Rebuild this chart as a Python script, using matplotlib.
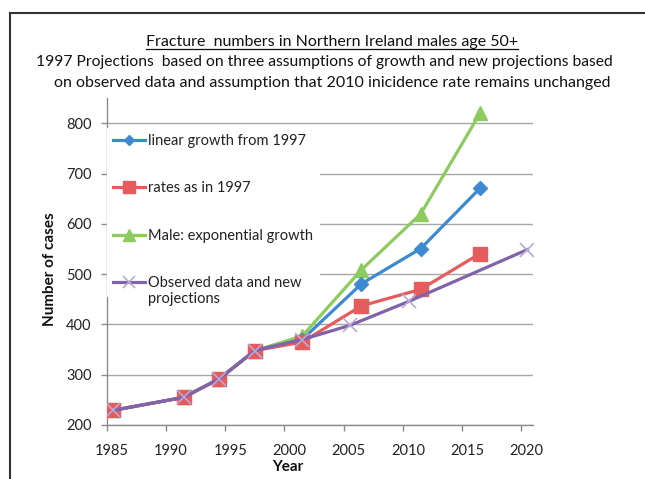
import matplotlib
matplotlib.use("Agg")
import matplotlib.pyplot as plt
import matplotlib.transforms as mtransforms
from matplotlib.lines import Line2D

# ---- data ----
years_proj = [1985.5, 1991.5, 1994.5, 1997.5, 2001.5, 2006.5, 2011.5, 2016.5]
linear_growth = [229, 255, 292, 348, 370, 481, 551, 671]
rates_1997 = [229, 255, 292, 348, 365, 437, 470, 541]
exponential = [229, 255, 292, 348, 377, 509, 620, 820]
years_obs = [1985.5, 1991.5, 1994.5, 1997.5, 2001.5, 2005.5, 2010.5, 2020.5]
observed = [229, 255, 292, 348, 370, 398, 446, 549]

series_labels = ["linear growth from 1997", "rates as in 1997",
                 "Male: exponential growth", "Observed data and new"]
label_continuation = "projections"
x_ticks = [1985, 1990, 1995, 2000, 2005, 2010, 2015, 2020]
y_ticks = [200, 300, 400, 500, 600, 700, 800]
title1 = "Fracture  numbers in Northern Ireland males age 50+"
title2 = "1997 Projections  based on three assumptions of growth and new projections based"
title3 = "on observed data and assumption that 2010 inicidence rate remains unchanged"

FONT = "Lato"
plt.rcParams["font.family"] = [FONT, "DejaVu Sans"]

W, H = 645, 479
fig = plt.figure(figsize=(W / 100, H / 100), dpi=100)

def fx(px):
    return px / W

def fy(py):
    return 1 - py / H

ax = fig.add_axes([fx(106.7), fy(425), fx(533.3) - fx(106.7), fy(98.3) - fy(425)])
ax.set_xlim(1985, 2021)
ax.set_ylim(200, 850)

blue = "#3D8AD0"
red = "#E65B5B"
green = "#8DCB5E"
purple = "#8063A8"
LW = 2.3

ax.plot(years_proj, exponential, color=green, lw=LW, marker="^", ms=10,
        label=series_labels[2], zorder=3)
ax.plot(years_proj, linear_growth, color=blue, lw=LW, marker="D", ms=7,
        label=series_labels[0], zorder=4)
ax.plot(years_proj, rates_1997, color=red, lw=LW, marker="s", ms=10,
        label=series_labels[1], zorder=5)
ax.plot(years_obs, observed, color=purple, lw=LW, marker="x", ms=10,
        mec="#B9A9D6", mew=1.2, label=series_labels[3], zorder=6)

ax.set_xticks(x_ticks)
ax.set_yticks(y_ticks)
ax.grid(axis="y", color="#A6A6A6", lw=1)
ax.set_axisbelow(True)
for s in ["top", "right"]:
    ax.spines[s].set_visible(False)
for s in ["left", "bottom"]:
    ax.spines[s].set_color("#8C8C8C")
    ax.spines[s].set_linewidth(1)
ax.tick_params(axis="both", colors="#8C8C8C", labelcolor="#222222",
               length=4, width=1, labelsize=10.5)
ax.tick_params(axis="y", pad=7)
ax.tick_params(axis="x", pad=10)
offset = mtransforms.ScaledTranslation(5 / 100, 0, fig.dpi_scale_trans)
for lab in ax.get_xticklabels():
    lab.set_transform(lab.get_transform() + offset)

fig.text(fx(288), fy(467), "Year", ha="center", va="center",
         fontsize=11, fontweight="bold", color="#111111")
fig.text(fx(50), fy(269), "Number of cases", ha="center", va="center",
         rotation=90, fontsize=11, fontweight="bold", color="#111111")

h, l = ax.get_legend_handles_labels()
order = [1, 2, 0, 3]
leg = ax.legend([h[i] for i in order], [l[i] for i in order],
                loc="upper left", bbox_to_anchor=(fx(107), fy(128)),
                bbox_transform=fig.transFigure, frameon=True, facecolor="white",
                edgecolor="white", framealpha=1, fancybox=False,
                fontsize=10.5, handlelength=2.2, handletextpad=0.2,
                labelspacing=2.3, borderpad=0.4, borderaxespad=0,
                markerscale=0.8)
leg.set_zorder(10)
for t in leg.get_texts():
    t.set_color("#222222")

t1 = fig.text(fx(332), fy(42), title1, ha="center", va="center", fontsize=11.5, color="#111111")
fig.text(fx(324), fy(62), title2, ha="center", va="center", fontsize=11.25, color="#111111")
fig.text(fx(332), fy(83), title3, ha="center", va="center", fontsize=11.5, color="#111111")

# outer border (left and top edges)
fig.add_artist(Line2D([fx(9.5), fx(9.5)], [0, fy(12.5)], color="#333333", lw=1.5,
                      transform=fig.transFigure))
fig.add_artist(Line2D([fx(9.5), 1], [fy(12.5), fy(12.5)], color="#333333", lw=1.5,
                      transform=fig.transFigure))

fig.canvas.draw()
renderer = fig.canvas.get_renderer()
inv = fig.transFigure.inverted()

# second line of the last legend label
lt = leg.get_texts()[3]
lb = lt.get_window_extent(renderer=renderer)
(lx0, ly0), (lx1, ly1) = inv.transform([[lb.x0, lb.y0], [lb.x1, lb.y1]])
fig.text(lx0, (ly0 + ly1) / 2 - 16 / H, label_continuation, ha="left", va="center",
         fontsize=10.5, color="#222222", zorder=11)

# underline title line 1
bb = t1.get_window_extent(renderer=renderer)
(x0, y0), (x1, y1) = inv.transform([[bb.x0, bb.y0], [bb.x1, bb.y1]])
fig.add_artist(Line2D([x0, x1], [y0 + 0.001, y0 + 0.001], color="#111111", lw=0.9,
                      transform=fig.transFigure))

fig.savefig("out.png", dpi=100)
